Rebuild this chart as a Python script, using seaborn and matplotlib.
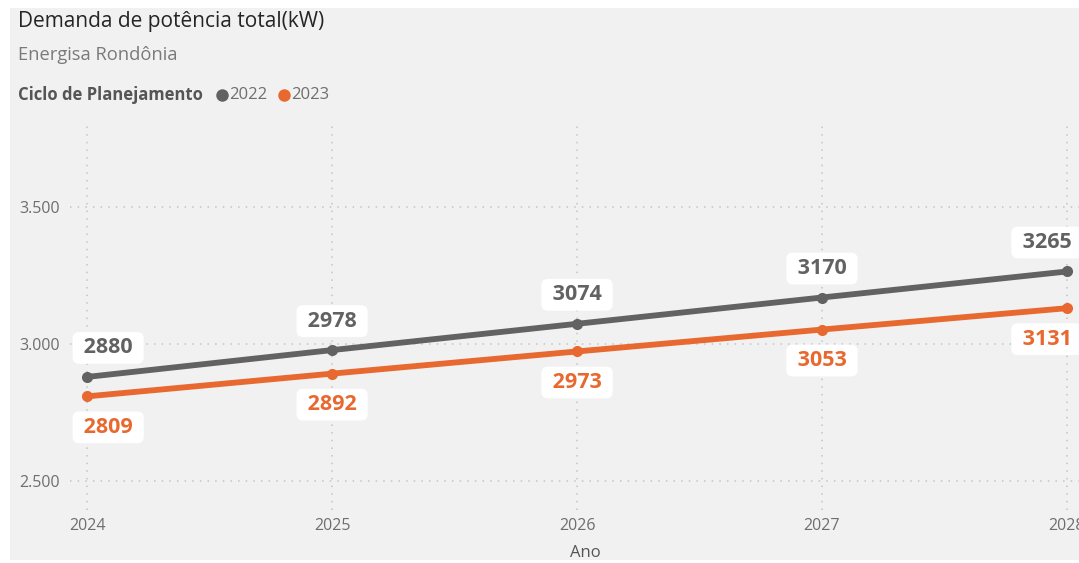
import matplotlib
matplotlib.use("Agg")
import matplotlib.pyplot as plt
from matplotlib.patches import Rectangle
from matplotlib.lines import Line2D
from matplotlib.ticker import FuncFormatter, FixedLocator
import seaborn as sns
import pandas as pd

# Demand series per planning cycle
anos = [2024, 2025, 2026, 2027, 2028]
ciclo_2022 = [2880, 2978, 3074, 3170, 3265]
ciclo_2023 = [2809, 2892, 2973, 3053, 3131]
ciclos = ["2022", "2023"]
y_ticks = [2500, 3000, 3500]

cores = {"2022": "#626262", "2023": "#E8692F"}
FONT = ["Open Sans", "DejaVu Sans"]

df = pd.DataFrame({
    "Ano": anos * 2,
    "Demanda": ciclo_2022 + ciclo_2023,
    "Ciclo": [ciclos[0]] * len(anos) + [ciclos[1]] * len(anos),
})

sns.set_theme(style="white")
plt.rcParams["font.family"] = FONT

W, H = 1079, 563
fig = plt.figure(figsize=(W / 100, H / 100), dpi=100, facecolor="white")
fig.add_artist(Rectangle((10 / W, 3 / H), 1 - 10 / W, 1 - 11 / H,
                         transform=fig.transFigure, facecolor="#F1F1F1",
                         edgecolor="none", zorder=0))

# axes box in pixels: left 70, right 1100 (runs past the canvas), top 125, bottom 510
ax = fig.add_axes([70 / W, 1 - 510 / H, 1030 / W, 385 / H])
ax.set_facecolor("none")

sns.lineplot(data=df, x="Ano", y="Demanda", hue="Ciclo", palette=cores,
             marker="o", markersize=8, markeredgewidth=0, linewidth=4.2,
             legend=False, ax=ax, zorder=3)

ax.set_xlim(2023.93, 2028.135)
ax.set_ylim(2394, 3800)
ax.xaxis.set_major_locator(FixedLocator(anos))
ax.yaxis.set_major_locator(FixedLocator(y_ticks))
ax.yaxis.set_major_formatter(FuncFormatter(lambda v, p: f"{int(v):,}".replace(",", ".")))
ax.grid(True, color="#C4C4C4", linestyle=(0, (1, 4)), linewidth=1.1)
for s in ax.spines.values():
    s.set_visible(False)
ax.tick_params(axis="both", length=0, labelsize=11.5, labelcolor="#6E6E6E")
ax.tick_params(axis="y", pad=7)
ax.tick_params(axis="x", pad=6)
ax.set_ylabel("")
ax.set_xlabel("Ano", fontsize=12, color="#555555", labelpad=8)

# value labels: 2022 above the line, 2023 below
shift = {0: 21, len(anos) - 1: -20}
for serie, vals, dy in ((ciclos[0], ciclo_2022, 29), (ciclos[1], ciclo_2023, -31)):
    for i, (a, v) in enumerate(zip(anos, vals)):
        ax.annotate(f" {v} ", xy=(a, v), xytext=(shift.get(i, 0) * 0.72, dy * 0.72),
                    textcoords="offset points", ha="center", va="center",
                    fontsize=15.5, fontweight="bold", color=cores[serie], zorder=5,
                    bbox=dict(boxstyle="round,pad=0.25,rounding_size=0.3",
                              facecolor="white", edgecolor="none"))

# header
fig.text(18 / W, 1 - 22 / H, "Demanda de potência total(kW)", fontsize=15,
         color="#252525", va="center", ha="left")
fig.text(18 / W, 1 - 55 / H, "Energisa Rondônia", fontsize=13.2,
         color="#7A7A7A", va="center", ha="left")
fig.text(18 / W, 1 - 95 / H, "Ciclo de Planejamento", fontsize=12,
         fontweight="bold", color="#555555", va="center", ha="left")
for cx, serie in ((222, ciclos[0]), (284, ciclos[1])):
    fig.add_artist(Line2D([cx / W], [1 - 95 / H], marker="o", markersize=9,
                          markeredgewidth=0, color=cores[serie],
                          transform=fig.transFigure))
    fig.text((cx + 7) / W, 1 - 95 / H, serie, fontsize=12, color="#6E6E6E",
             va="center", ha="left")

fig.savefig("out.png", dpi=100, facecolor="white")
